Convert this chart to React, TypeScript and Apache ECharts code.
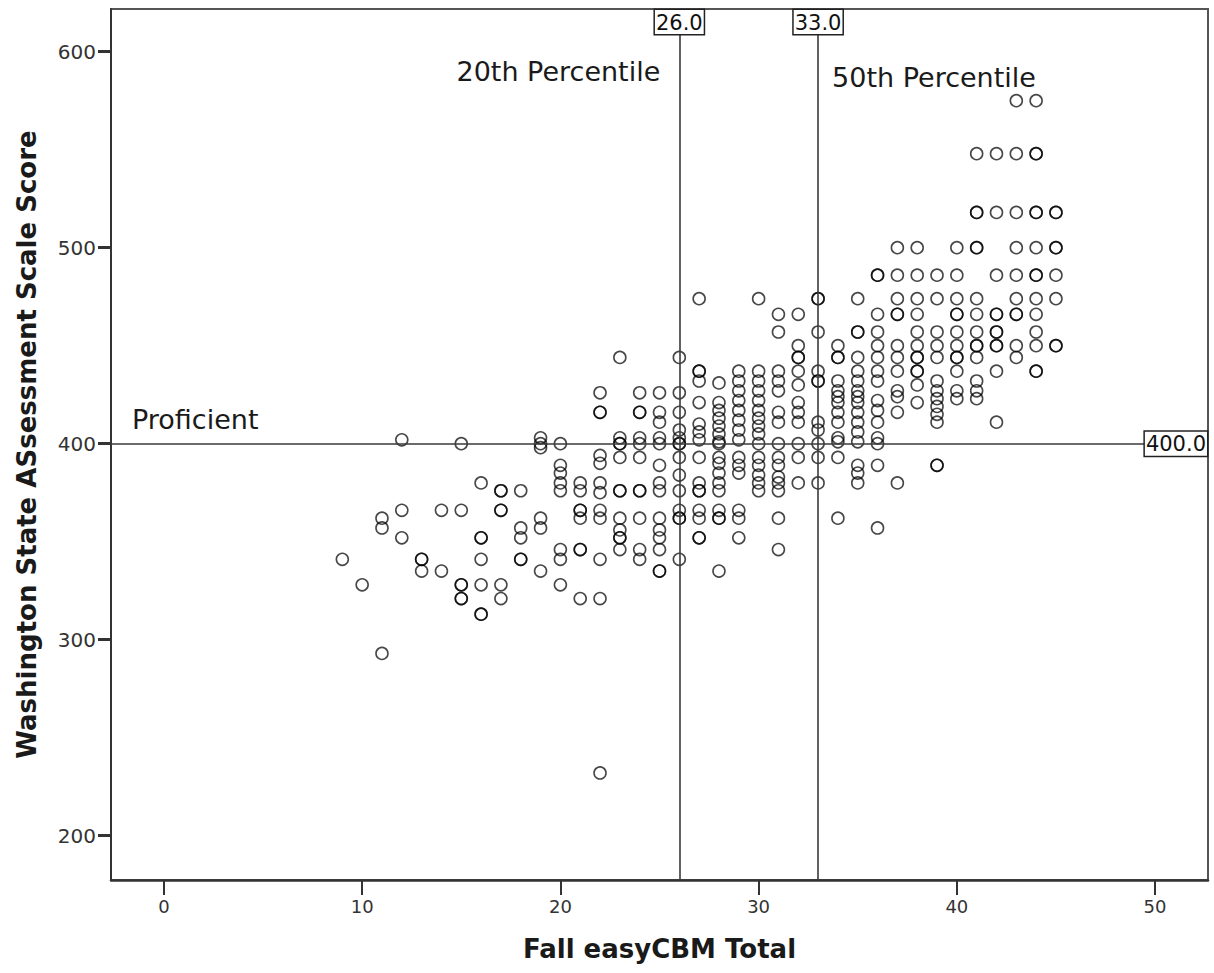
import React, { useEffect, useRef } from "react";
import * as echarts from "echarts";

// Fall easyCBM Total (x) and the Washington State Assessment scale scores observed at each total
const totals = [9, 10, 11, 12, 13, 14, 15, 16, 17, 18, 19, 20, 21, 22, 23, 24, 25, 26, 27, 28, 29, 30, 31, 32, 33, 34, 35, 36, 37, 38, 39, 40, 41, 42, 43, 44, 45];
const scoresLow = [
  [341],
  [328],
  [362, 357, 293],
  [402, 366, 352],
  [341, 341, 335],
  [366, 335],
  [400, 366, 328, 328, 321, 321],
  [380, 352, 352, 341, 328, 313, 313],
  [376, 376, 366, 366, 328, 321],
  [376, 357, 352, 341, 341],
  [403, 400, 398, 362, 357, 335],
  [400, 389, 385, 380, 376, 346, 341, 328],
];
const scoresMid = [
  [380, 376, 366, 366, 362, 346, 346, 321],
  [426, 416, 416, 394, 390, 380, 375, 366, 362, 341, 321, 232],
  [444, 403, 400, 400, 393, 376, 376, 362, 356, 352, 352, 346],
  [426, 416, 416, 403, 400, 393, 376, 376, 362, 346, 341],
  [426, 416, 411, 403, 400, 389, 380, 376, 362, 356, 352, 346, 335, 335],
  [444, 426, 416, 407, 403, 400, 400, 393, 384, 376, 366, 362, 362, 341],
  [474, 437, 437, 432, 421, 410, 406, 402, 393, 380, 376, 376, 366, 362, 352, 352],
  [431, 421, 417, 413, 409, 405, 401, 400, 393, 390, 385, 380, 376, 366, 362, 362, 335],
  [437, 432, 427, 422, 417, 412, 407, 402, 393, 389, 385, 366, 362, 352],
  [474, 437, 432, 427, 422, 417, 413, 409, 405, 400, 393, 389, 384, 380, 376],
  [466, 457, 437, 432, 427, 416, 411, 400, 393, 389, 383, 380, 376, 362, 346],
  [466, 450, 444, 444, 437, 430, 421, 416, 411, 400, 393, 380],
];
const scoresHigh = [
  [474, 474, 457, 437, 432, 432, 411, 407, 400, 393, 380],
  [450, 444, 444, 432, 427, 424, 421, 416, 411, 403, 401, 393, 362],
  [474, 457, 457, 444, 437, 432, 427, 424, 421, 416, 411, 406, 401, 389, 385, 380],
  [486, 486, 466, 457, 450, 444, 437, 432, 422, 417, 411, 403, 400, 389, 357],
  [500, 486, 474, 466, 466, 450, 444, 437, 427, 424, 416, 380],
  [500, 486, 474, 466, 457, 450, 444, 444, 437, 437, 430, 421],
  [486, 474, 457, 450, 444, 432, 427, 423, 419, 415, 411, 389, 389],
  [500, 486, 474, 466, 466, 457, 450, 444, 444, 437, 427, 423],
  [548, 518, 518, 500, 500, 474, 466, 457, 450, 450, 444, 432, 427, 423],
  [548, 518, 486, 466, 466, 457, 457, 450, 450, 437, 411],
  [575, 548, 518, 500, 486, 474, 466, 466, 450, 444],
  [575, 548, 548, 518, 518, 500, 486, 486, 474, 466, 457, 450, 437, 437],
  [518, 518, 500, 500, 486, 474, 450, 450],
];

// Reference lines
const percentileCuts = [26, 33];
const percentileNames = ["20th Percentile", "50th Percentile"];
const proficientCut = 400;
const proficientName = "Proficient";

// Axis ranges and ticks
const xRange = [-2.67, 52.67];
const yRange = [177.4, 621.8];
const xTicks = [0, 10, 20, 30, 40, 50];
const yTicks = [200, 300, 400, 500, 600];

const FONT = "'DejaVu Sans', Verdana, sans-serif";

export default function App() {
  const ref = useRef<HTMLDivElement>(null);

  useEffect(() => {
    if (!ref.current) return;
    const chart = echarts.init(ref.current, null, { renderer: "svg" });
    const allScores = [...scoresLow, ...scoresMid, ...scoresHigh];
    const points: number[][] = [];
    totals.forEach((t, i) => {
      (allScores[i] || []).forEach((s) => points.push([t, s]));
    });

    const boxLabel = {
      show: true,
      fontFamily: FONT,
      fontSize: 21,
      color: "#111",
      backgroundColor: "#fff",
      borderColor: "#222",
      borderWidth: 1.5,
      padding: [2, 1, 0, 1],
      lineHeight: 22,
    };
    const plainLabel = {
      show: true,
      fontFamily: FONT,
      fontSize: 27,
      color: "#1a1a1a",
    };

    chart.setOption({
      animation: false,
      backgroundColor: "#fff",
      grid: {
        left: 111,
        right: 6,
        top: 9,
        bottom: 93,
        show: true,
        borderColor: "#555",
        borderWidth: 2,
        backgroundColor: "transparent",
      },
      xAxis: {
        type: "value",
        min: xRange[0],
        max: xRange[1],
        name: "Fall easyCBM Total",
        nameLocation: "middle",
        nameGap: 56,
        nameTextStyle: { fontFamily: FONT, fontSize: 26, fontWeight: "bold", color: "#1a1a1a" },
        axisLine: { show: true, onZero: false, lineStyle: { color: "#333", width: 2.5 } },
        axisTick: { show: true, length: 15, customValues: xTicks, lineStyle: { color: "#333", width: 2 } },
        axisLabel: { customValues: xTicks, margin: 17, fontFamily: FONT, fontSize: 18, color: "#333" },
        splitLine: { show: false },
      },
      yAxis: {
        type: "value",
        min: yRange[0],
        max: yRange[1],
        name: "Washington State ASsessment Scale Score",
        nameLocation: "middle",
        nameGap: 71,
        nameTextStyle: { fontFamily: FONT, fontSize: 26, fontWeight: "bold", color: "#1a1a1a" },
        axisLine: { show: true, onZero: false, lineStyle: { color: "#333", width: 2 } },
        axisTick: { show: true, length: 13, customValues: yTicks, lineStyle: { color: "#333", width: 3 } },
        axisLabel: { customValues: yTicks, margin: 15, fontFamily: FONT, fontSize: 20, color: "#333" },
        splitLine: { show: false },
      },
      series: [
        {
          type: "scatter",
          name: "students",
          data: points,
          symbol: "circle",
          symbolSize: 12,
          itemStyle: { color: "rgba(0,0,0,0)", borderColor: "#000", borderWidth: 1.6, opacity: 0.72 },
          z: 3,
          markLine: {
            silent: true,
            symbol: ["none", "none"],
            label: { show: false },
            lineStyle: { color: "#3a3a3a", width: 1.6, type: "solid", opacity: 1 },
            data: [
              { xAxis: percentileCuts[0] },
              { xAxis: percentileCuts[1] },
              { yAxis: proficientCut },
            ],
          },
        },
        {
          type: "scatter",
          name: "cut values",
          symbolSize: 0,
          silent: true,
          z: 5,
          itemStyle: { opacity: 1 },
          data: [
            { value: [percentileCuts[0], yRange[1]], label: { ...boxLabel, position: "bottom", distance: 1, formatter: percentileCuts[0].toFixed(1) } },
            { value: [percentileCuts[1], yRange[1]], label: { ...boxLabel, position: "bottom", distance: 1, formatter: percentileCuts[1].toFixed(1) } },
            { value: [xRange[1], proficientCut], label: { ...boxLabel, position: "left", distance: 1, formatter: proficientCut.toFixed(1) } },
          ],
        },
        {
          type: "scatter",
          name: "cut names",
          symbolSize: 0,
          silent: true,
          z: 5,
          itemStyle: { opacity: 1 },
          data: [
            { value: [percentileCuts[0], 590], label: { ...plainLabel, position: "left", distance: 19, formatter: percentileNames[0] } },
            { value: [percentileCuts[1], 587], label: { ...plainLabel, position: "right", distance: 14, formatter: percentileNames[1] } },
            { value: [xRange[0], 412.5], label: { ...plainLabel, position: "right", distance: 21, formatter: proficientName } },
          ],
        },
      ],
    });

    return () => chart.dispose();
  }, []);

  return (
    <div
      ref={ref}
      style={{ position: "absolute", left: 0, top: 0, width: 1214, height: 973, background: "#fff" }}
    />
  );
}
